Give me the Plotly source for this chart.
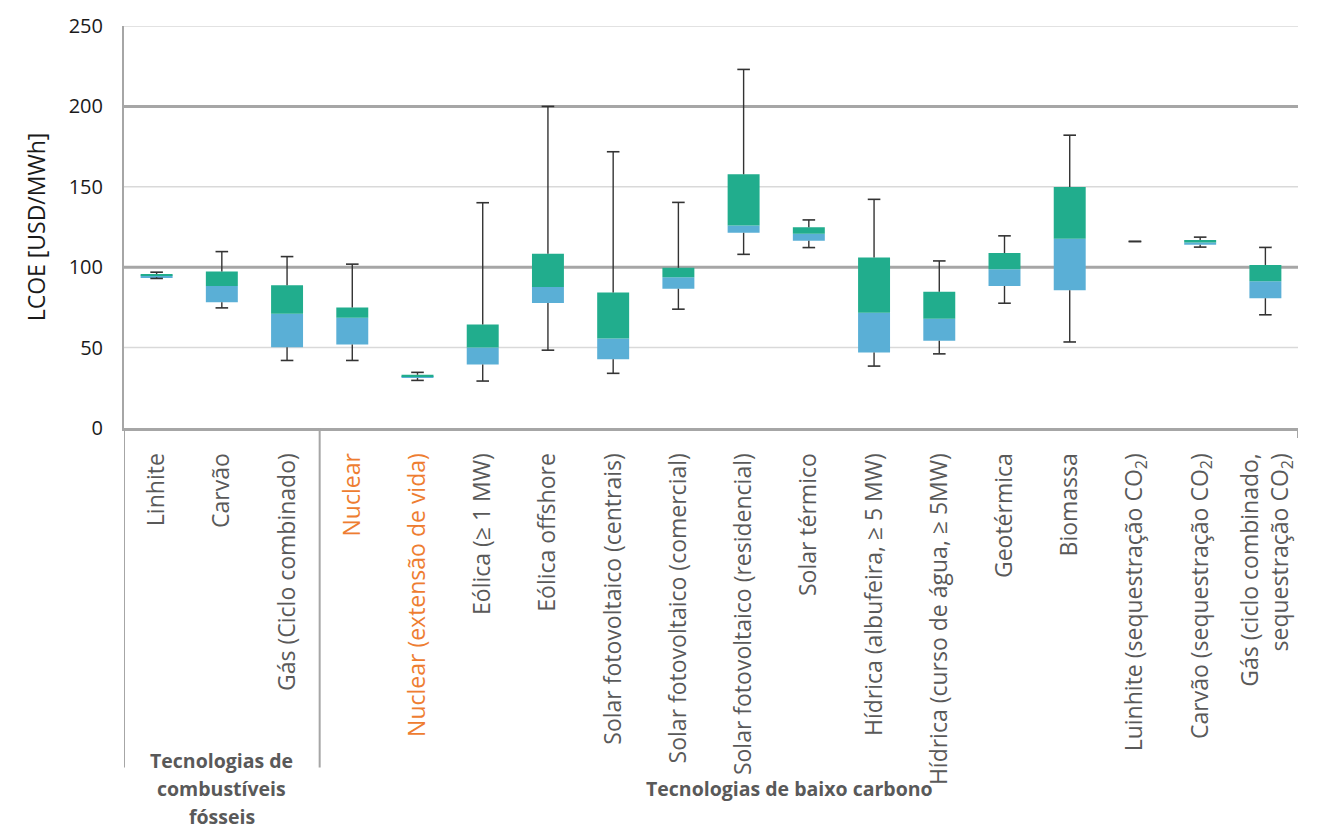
import plotly.graph_objects as go

# LCOE ranges per technology (USD/MWh): minimum, 1st quartile, median, 3rd quartile, maximum
technologies = [
    "Linhite", "Carvão", "Gás (Ciclo combinado)",
    "Nuclear", "Nuclear (extensão de vida)", "Eólica (≥ 1 MW)", "Eólica offshore",
    "Solar fotovoltaico (centrais)", "Solar fotovoltaico (comercial)",
    "Solar fotovoltaico (residencial)", "Solar térmico",
    "Hídrica (albufeira, ≥ 5 MW)", "Hídrica (curso de água, ≥ 5MW)",
    "Geotérmica", "Biomassa", "Luinhite (sequestração CO<sub>2</sub>)",
    "Carvão (sequestração CO<sub>2</sub>)",
    "Gás (ciclo combinado,<br>sequestração CO<sub>2</sub>)",
]
lcoe_min = [93.0, 74.7, 42.0, 42.0, 29.6, 29.2, 48.4, 34.0, 73.9, 108.0, 112.2, 38.5, 46.1, 77.6, 53.5, 116.0, 112.5, 70.4]
lcoe_q1 = [93.8, 78.2, 50.2, 52.0, 31.1, 39.5, 77.8, 42.8, 86.6, 121.4, 116.5, 46.9, 54.3, 88.3, 85.6, 116.0, 114.0, 80.7]
lcoe_median = [94.8, 88.3, 71.0, 68.5, 32.2, 50.0, 87.7, 55.6, 93.8, 125.9, 120.8, 71.6, 67.9, 98.8, 117.7, 116.0, 115.4, 91.2]
lcoe_q3 = [95.7, 97.3, 88.7, 74.9, 33.1, 64.4, 108.4, 84.2, 99.6, 157.8, 124.9, 106.0, 84.8, 108.8, 149.8, 116.0, 116.9, 101.4]
lcoe_max = [96.9, 109.7, 106.6, 101.9, 34.6, 140.1, 200.0, 171.8, 140.3, 223.0, 129.4, 142.2, 103.9, 119.5, 182.1, 116.0, 118.7, 112.3]
highlighted = ["Nuclear", "Nuclear (extensão de vida)"]

y_ticks = [0, 50, 100, 150, 200, 250]
light_grid = [50, 150, 250]
strong_grid = [100, 200]

fossil_title = ["Tecnologias de", "combustíveis", "fósseis"]
low_carbon_title = "Tecnologias de baixo carbono"

GREEN = "#21AD8D"
BLUE = "#5AAFD6"
WHISKER = "#333333"
GRID_LIGHT = "#D9D9D9"
GRID_DARK = "#A6A6A6"
LABEL = "#595959"
ORANGE = "#EE7D31"
FONT = "Open Sans"

x = list(range(len(technologies)))

fig = go.Figure()

# lower half of the box: Q1 -> median
fig.add_trace(go.Bar(
    x=x, y=[m - q for m, q in zip(lcoe_median, lcoe_q1)], base=lcoe_q1,
    width=0.49, marker=dict(color=BLUE, line=dict(width=0)),
    hoverinfo="skip", showlegend=False,
))
# upper half of the box: median -> Q3
fig.add_trace(go.Bar(
    x=x, y=[q - m for q, m in zip(lcoe_q3, lcoe_median)], base=lcoe_median,
    width=0.49, marker=dict(color=GREEN, line=dict(width=0)),
    hoverinfo="skip", showlegend=False,
))

# whiskers
wx, wy = [], []
for i in x:
    wx += [i, i, None, i, i, None]
    wy += [lcoe_q3[i], lcoe_max[i], None, lcoe_q1[i], lcoe_min[i], None]
fig.add_trace(go.Scatter(
    x=wx, y=wy, mode="lines", line=dict(color=WHISKER, width=1.4),
    hoverinfo="skip", showlegend=False,
))
# whisker caps
fig.add_trace(go.Scatter(
    x=x + x, y=lcoe_max + lcoe_min, mode="markers",
    marker=dict(symbol="line-ew", size=9, line=dict(color=WHISKER, width=1.6)),
    hoverinfo="skip", showlegend=False,
))

tick_text = [
    f'<span style="color:{ORANGE}">{t}</span>' if t in highlighted else t
    for t in technologies
]

fig.update_layout(
    width=1321, height=832,
    margin=dict(l=124, r=23, t=23, b=404),
    plot_bgcolor="white", paper_bgcolor="white",
    barmode="overlay",
    font=dict(family=FONT, color=LABEL),
    xaxis=dict(
        range=[-0.5, len(technologies) - 0.5],
        tickmode="array", tickvals=x, ticktext=tick_text,
        tickangle=-90, tickfont=dict(size=23, color=LABEL, family=FONT),
        showgrid=False, zeroline=False,
        showline=True, linecolor=GRID_DARK, linewidth=3,
        ticks="", ticklabelstandoff=13,
    ),
    yaxis=dict(
        range=[0, 250], tickvals=y_ticks,
        tickfont=dict(size=20, color="#1A1A1A", family=FONT),
        showgrid=False, zeroline=False,
        showline=True, linecolor=GRID_DARK, linewidth=2,
        ticks="", ticklabelstandoff=15,
        title=dict(text="LCOE [USD/MWh]", font=dict(size=23, color="#1A1A1A", family=FONT), standoff=17),
    ),
)

# horizontal gridlines: light every 50, stronger every 100
for v in light_grid:
    fig.add_shape(type="line", xref="paper", yref="y", x0=0, x1=1, y0=v, y1=v,
                  line=dict(color=GRID_LIGHT, width=1.5), layer="between")
for v in strong_grid:
    fig.add_shape(type="line", xref="paper", yref="y", x0=0, x1=1, y0=v, y1=v,
                  line=dict(color=GRID_DARK, width=3), layer="between")

# group separators below the axis
bottom = -342 / 405
for sep in [-0.5, 2.5]:
    fig.add_shape(type="line", xref="x", yref="paper", x0=sep, x1=sep, y0=0, y1=bottom,
                  line=dict(color=GRID_DARK, width=2))
fig.add_shape(type="line", xref="x", yref="paper", x0=len(technologies) - 0.5,
              x1=len(technologies) - 0.5, y0=0, y1=-10 / 405,
              line=dict(color=GRID_DARK, width=2))

# group titles
for k, line in enumerate(fossil_title):
    fig.add_annotation(x=1, xref="x", y=(428 - (763 + 28 * k)) / 405, yref="paper",
                       text=f"<b>{line}</b>", showarrow=False, yanchor="middle",
                       font=dict(size=19.5, color=LABEL, family=FONT))
fig.add_annotation(x=9.7, xref="x", y=(428 - 791) / 405, yref="paper",
                   text=f"<b>{low_carbon_title}</b>", showarrow=False, yanchor="middle",
                   font=dict(size=19.5, color=LABEL, family=FONT))

fig.write_html("out.html")
